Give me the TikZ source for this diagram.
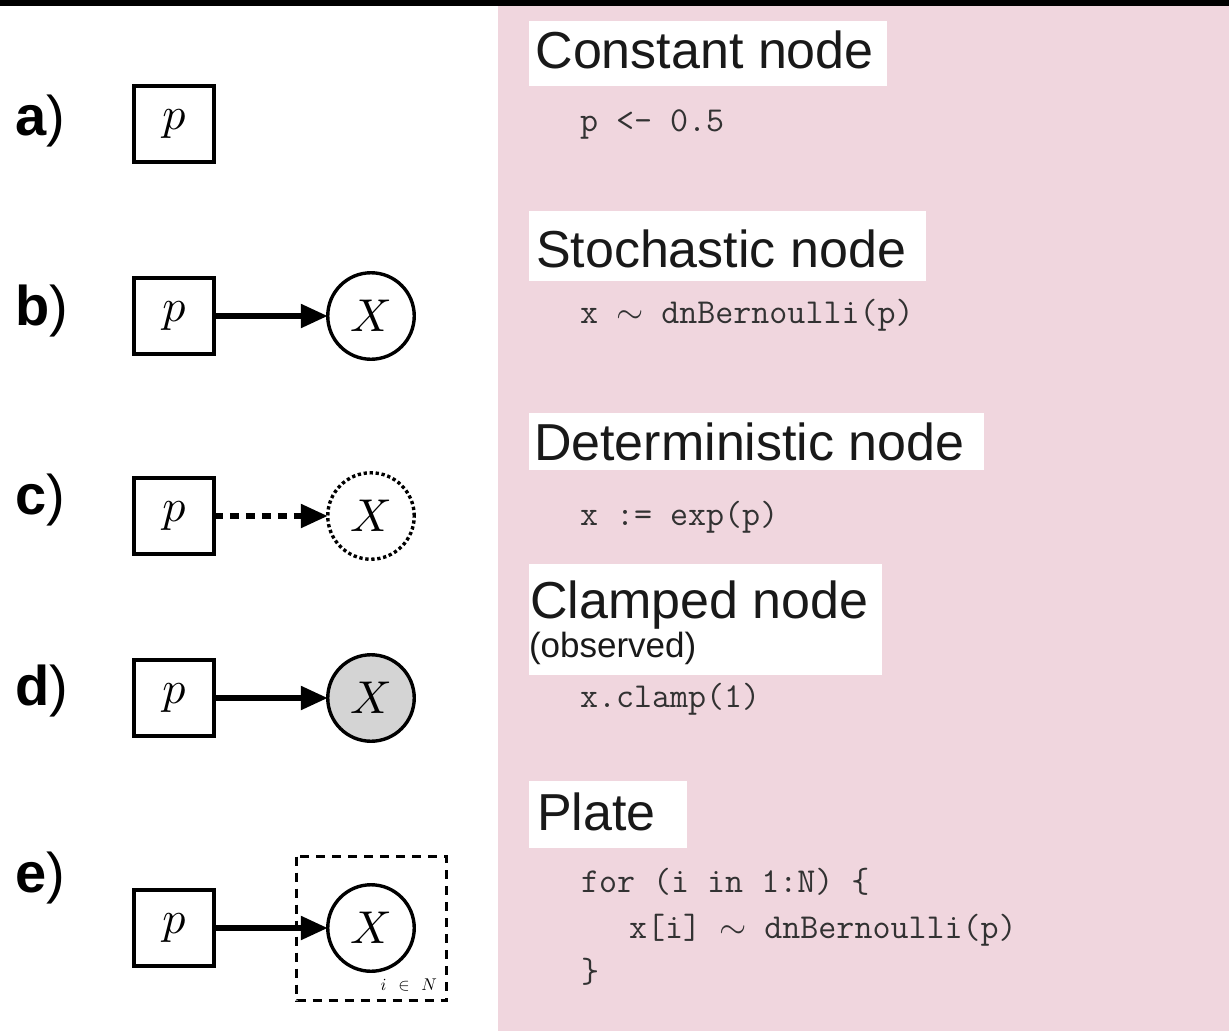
\documentclass[tikz,border=0pt]{standalone}
\usepackage{fontspec}
\newfontfamily\hv{Liberation Sans}
\usetikzlibrary{arrows.meta}
% freely scalable math italic and symbols for the large node letters
\DeclareFontShape{OML}{cmm}{m}{it}{<->cmmi10}{}
\DeclareFontShape{OMS}{cmsy}{m}{n}{<->cmsy10}{}
\definecolor{panelpink}{RGB}{240,214,222}
\definecolor{obsgray}{RGB}{212,212,212}
\definecolor{codeink}{RGB}{50,50,50}
\definecolor{headink}{RGB}{25,25,25}

\begin{document}
\begin{tikzpicture}[x=1pt,y=-1pt,
  every node/.style={inner sep=0pt, outer sep=0pt},
  valbox/.style={draw, line width=3.6pt, minimum width=79.5pt, minimum height=76.5pt,
    font=\fontsize{46}{50}\selectfont},
  varnode/.style={circle, draw, line width=3.4pt, minimum size=86.5pt,
    font=\fontsize{46}{50}\selectfont},
  detnode/.style={varnode, dash pattern=on 3.3pt off 2.7pt},
  obsnode/.style={varnode, fill=obsgray},
  link/.style={line width=5.5pt, -{Triangle[length=27pt,width=23pt]}},
  detlink/.style={link, dash pattern=on 9pt off 7pt},
  platebox/.style={line width=3pt, dash pattern=on 9pt off 7pt},
  rowlabel/.style={anchor=base west, font=\hv\fontsize{56}{60}\selectfont},
  headbg/.style={fill=white},
  heading/.style={anchor=base west, text=headink, font=\hv\fontsize{52}{60}\selectfont},
  subheading/.style={anchor=base west, text=headink, font=\hv\fontsize{35}{40}\selectfont},
  code/.style={anchor=base west, text=codeink, font=\ttfamily\fontsize{35}{40}\selectfont},
]
\useasboundingbox (0,0) rectangle (1229,1031);

% page frame: top rule and the code panel
\fill[black] (0,0) rectangle (1229,6);
\fill[panelpink] (498,6) rectangle (1229,1031);

% ---- graphical models ----
% a) constant node
\node[rowlabel] (la) at (15,135) {\textbf{a})};
\node[valbox] (pa) at (174,124) {$p$};

% b) stochastic node
\node[rowlabel] (lb) at (15,325) {\textbf{b})};
\node[valbox] (pb) at (174,316) {$p$};
\node[varnode] (xb) at (371,316) {$X$};
\draw[link] (pb) -- (xb);

% c) deterministic node
\node[rowlabel] (lc) at (15,514) {\textbf{c})};
\node[valbox] (pc) at (174,516) {$p$};
\node[detnode] (xc) at (371,516) {$X$};
\draw[detlink] (pc) -- (xc);

% d) clamped node
\node[rowlabel] (ld) at (15,705) {\textbf{d})};
\node[valbox] (pd) at (174,698) {$p$};
\node[obsnode] (xd) at (371,698) {$X$};
\draw[link] (pd) -- (xd);

% e) plate
\node[rowlabel] (le) at (15,892) {\textbf{e})};
\draw[platebox] (296.5,856.5) rectangle (446.5,1000.5);
\node[anchor=base east, font=\fontsize{17}{20}\selectfont] (plab) at (437,990)
  {$i\hspace{0.7em}{\in}\hspace{0.7em}N$};
\node[valbox] (pe) at (174,928) {$p$};
\node[varnode] (xe) at (371,928) {$X$};
\draw[link] (pe) -- (xe);

% ---- code panel ----
\fill[headbg] (529,21) rectangle (887,86);
\node[heading] (hc) at (535.5,68) {Constant node};
\node[code] (cc) at (580,131) {p <- 0.5};

\fill[headbg] (529,211) rectangle (926,281);
\node[heading] (hs) at (536,267) {Stochastic node};
\node[code] (cs) at (580,323) {x $\sim$ dnBernoulli(p)};

\fill[headbg] (529,413) rectangle (984,470);
\node[heading] (hd) at (534,460) {Deterministic node};
\node[code] (cd) at (580,525) {x := exp(p)};

\fill[headbg] (529,564) rectangle (882,675);
\node[heading] (hk) at (530,618) {Clamped node};
\node[subheading] (ho) at (529,657) {(observed)};
\node[code] (ck) at (580,707) {x.clamp(1)};

\fill[headbg] (529,781) rectangle (687,848);
\node[heading] (hp) at (537,830) {Plate};
\node[code] (cp1) at (581,892) {for (i in 1:N) \{};
\node[code] (cp2) at (629,938) {x[i] $\sim$ dnBernoulli(p)};
\node[code] (cp3) at (581,982) {\}};
\end{tikzpicture}
\end{document}
